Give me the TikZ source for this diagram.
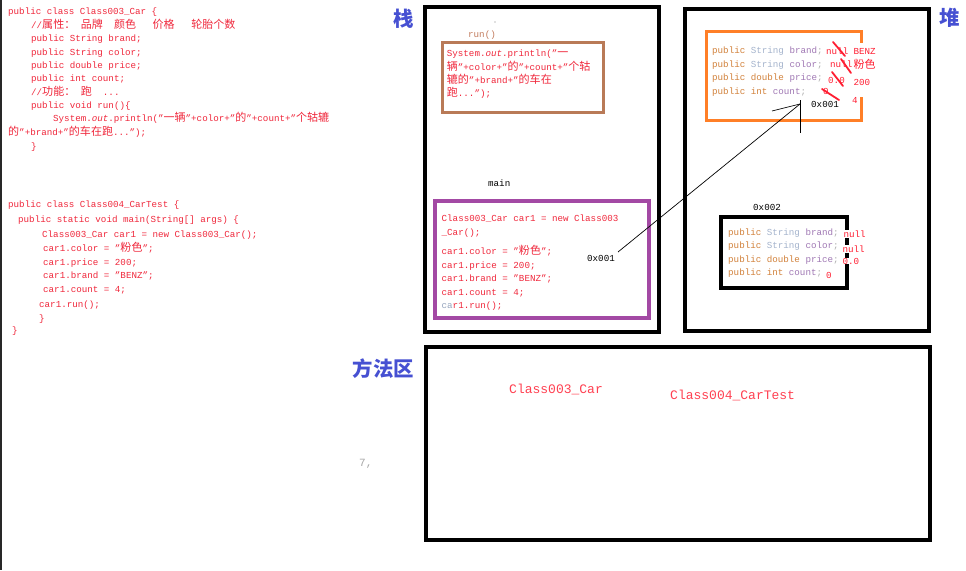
\documentclass[tikz,border=0pt]{standalone}
\usepackage{fontspec}
\newfontfamily\monof{Liberation Mono}
\newfontfamily\cjkfont{Noto Sans CJK SC}[Scale=1.2]
\newcommand{\zh}[1]{{\cjkfont #1}}
\newcommand{\codefont}{\fontsize{9.2}{11}\selectfont\monof}
\definecolor{codered}{RGB}{240,40,60}
\definecolor{annred}{RGB}{255,30,50}
\definecolor{labblue}{RGB}{70,80,210}
\definecolor{pbrown}{RGB}{185,122,87}
\definecolor{porange}{RGB}{255,127,39}
\definecolor{ppurple}{RGB}{163,73,164}
\definecolor{kw}{RGB}{210,130,60}
\definecolor{ty}{RGB}{165,180,205}
\definecolor{idc}{RGB}{160,120,180}
\definecolor{semi}{RGB}{175,175,175}
\definecolor{runc}{RGB}{195,125,95}
\definecolor{greyc}{RGB}{150,165,190}
\definecolor{edge}{RGB}{40,40,40}
\begin{document}
\begin{tikzpicture}[x=1pt,y=-1pt,
  code/.style={anchor=base west, inner sep=0pt, font=\codefont, text=codered},
  lbl/.style={anchor=base west, inner sep=0pt, font=\codefont, text=black},
  heaptxt/.style={anchor=base west, inner sep=0pt, font=\codefont},
  ann/.style={anchor=base west, inner sep=0pt, font=\codefont, text=annred},
  annw/.style={anchor=base west, inner sep=0.3pt, font=\codefont, text=annred, fill=white},
  region/.style={draw=black, line width=4pt, inner sep=0pt},
  zone/.style={font=\fontsize{17}{17}\selectfont\cjkfont\bfseries, text=labblue, inner sep=0pt},
  strike/.style={draw=annred, line width=1.8pt, line cap=round},
  conn/.style={draw=black, line width=0.7pt}
]
\useasboundingbox (0,0) rectangle (966,570);
\fill[white] (0,0) rectangle (966,570);
\draw[line width=1.5pt, edge] (0.75,0) -- (0.75,570);

% ---------- left code, block 1 ----------
\node[code] (a1) at (8,14) {public class Class003\_Car \{};
\node[code] (a2) at (31,28) {//\zh{属性：}~\zh{品牌}~~\zh{颜色}~~~\zh{价格}~~~\zh{轮胎个数}};
\node[code] (a3) at (31,41) {public String brand;};
\node[code] (a4) at (31,55) {public String color;};
\node[code] (a5) at (31,68) {public double price;};
\node[code] (a6) at (31,81) {public int count;};
\node[code] (a7) at (31,95) {//\zh{功能：}~\zh{跑}~~...};
\node[code] (a8) at (31,108) {public void run()\{};
\node[code] (a9) at (53,121) {System.\textit{out}.println(”\zh{一辆}”+color+”\zh{的}”+count+”\zh{个轱辘}};
\node[code] (a10) at (8,135) {\zh{的}”+brand+”\zh{的车在跑}...”);};
\node[code] (a11) at (31,149) {\}};

% ---------- left code, block 2 ----------
\node[code] (b1) at (8,207) {public class Class004\_CarTest \{};
\node[code] (b2) at (18,222) {public static void main(String[] args) \{};
\node[code] (b3) at (42,237) {Class003\_Car car1 = new Class003\_Car();};
\node[code] (b4) at (43,251) {car1.color = ”\zh{粉色}”;};
\node[code] (b5) at (43,265) {car1.price = 200;};
\node[code] (b6) at (43,278) {car1.brand = ”BENZ”;};
\node[code] (b7) at (43,292) {car1.count = 4;};
\node[code] (b8) at (39,307) {car1.run();};
\node[code] (b9) at (39,321) {\}};
\node[code] (b10) at (12,333) {\}};

% ---------- region boxes ----------
\node[region, minimum width=234.5pt, minimum height=325pt] (stack) at (541.75,169.5) {};
\node[region, minimum width=244pt, minimum height=322pt] (heap) at (807,170) {};
\node[region, minimum width=504pt, minimum height=193pt] (method) at (678,443.5) {};

\node[zone] (zstack) at (404,18.5) {栈};
\node[zone] (zheap) at (949.5,18) {堆};
\node[zone] (zmethod) at (383.5,369) {方法区};

% ---------- stack contents ----------
\fill[gray] (495,22) circle (0.6pt);
\node[lbl, text=runc] (runlbl) at (468,37) {run()};
\node[draw=pbrown, line width=3pt, inner sep=0pt, minimum width=161pt, minimum height=69.5pt] (runframe) at (522.5,77.25) {};
\node[code] (r1) at (446.7,56) {System.\textit{out}.println(”\zh{一}};
\node[code] (r2) at (446.7,70) {\zh{辆}”+color+”\zh{的}”+count+”\zh{个轱}};
\node[code] (r3) at (446.7,83) {\zh{辘的}”+brand+”\zh{的车在}};
\node[code] (r4) at (446.7,96.5) {\zh{跑}...”);};

\node[lbl] (mainlbl) at (488,186) {main};
\node[draw=ppurple, line width=4pt, inner sep=0pt, minimum width=214.5pt, minimum height=117pt] (mainframe) at (541.75,259) {};
\node[code] (m1) at (441.5,221.5) {Class003\_Car car1 = new Class003};
\node[code] (m2) at (441.5,235) {\_Car();};
\node[code] (m3) at (441.5,254) {car1.color = ”\zh{粉色}”;};
\node[code] (m4) at (441.5,268) {car1.price = 200;};
\node[code] (m5) at (441.5,281.5) {car1.brand = ”BENZ”;};
\node[code] (m6) at (441.5,295) {car1.count = 4;};
\node[code] (m7) at (441.5,308.5) {\textcolor{greyc}{ca}r1.run();};
\node[lbl] (addr1) at (587,261) {0x001};

% ---------- heap contents ----------
\node[draw=porange, line width=3pt, inner sep=0pt, minimum width=154.5pt, minimum height=88.5pt] (obj1) at (783.75,75.75) {};
\node[heaptxt] (h1) at (712,53.5) {\textcolor{kw}{public} \textcolor{ty}{String} \textcolor{idc}{brand}\textcolor{semi}{;}};
\node[heaptxt] (h2) at (712,67) {\textcolor{kw}{public} \textcolor{ty}{String} \textcolor{idc}{color}\textcolor{semi}{;}};
\node[heaptxt] (h3) at (712,80.5) {\textcolor{kw}{public} \textcolor{kw}{double} \textcolor{idc}{price}\textcolor{semi}{;}};
\node[heaptxt] (h4) at (712,94) {\textcolor{kw}{public} \textcolor{kw}{int} \textcolor{idc}{count}\textcolor{semi}{;}};
\fill[white] (852,43) rectangle (876,97);
\node[ann] (n1) at (826,54.3) {null};
\node[annw] (v1) at (853,54.3) {BENZ};
\node[ann] (n2) at (830,67.5) {null};
\node[annw] (v2) at (853,68) {\zh{粉色}};
\node[ann] (n3) at (828,83.7) {0.0};
\node[annw] (v3) at (853,85) {200};
\node[ann] (n4) at (823,94.3) {0};
\node[ann] (v4) at (852,103.7) {4};
\draw[strike] (833,42) -- (845,56);
\draw[strike] (841,59) -- (851,73);
\draw[strike] (832,72) -- (843,86);
\draw[strike] (822,89) -- (839,100);
\node[lbl] (haddr1) at (811,107) {0x001};

\node[lbl] (haddr2) at (753,210.5) {0x002};
\node[region, minimum width=126pt, minimum height=70.5pt] (obj2) at (784,252.25) {};
\node[heaptxt] (k1) at (728,235.5) {\textcolor{kw}{public} \textcolor{ty}{String} \textcolor{idc}{brand}\textcolor{semi}{;}};
\node[heaptxt] (k2) at (728,248.5) {\textcolor{kw}{public} \textcolor{ty}{String} \textcolor{idc}{color}\textcolor{semi}{;}};
\node[heaptxt] (k3) at (728,262) {\textcolor{kw}{public} \textcolor{kw}{double} \textcolor{idc}{price}\textcolor{semi}{;}};
\node[heaptxt] (k4) at (728,275) {\textcolor{kw}{public} \textcolor{kw}{int} \textcolor{idc}{count}\textcolor{semi}{;}};
\node[annw] (d1) at (843,237.3) {null};
\node[annw] (d2) at (842,252.3) {null};
\node[annw] (d3) at (842,264) {0.0};
\node[ann] (d4) at (826,278) {0};

% ---------- method area ----------
\node[anchor=base west, inner sep=0pt, font=\fontsize{13}{15}\selectfont\monof, text=annred!85] (c1) at (509,393.5) {Class003\_Car};
\node[anchor=base west, inner sep=0pt, font=\fontsize{13}{15}\selectfont\monof, text=annred!85] (c2) at (670,399.5) {Class004\_CarTest};
\node[anchor=base west, inner sep=0pt, font=\fontsize{11}{12}\selectfont\monof, text=gray!70] (seven) at (359,466) {7,};

% ---------- reference connector ----------
\coordinate (p1) at (618,252);
\coordinate (tip) at (800,104);
\coordinate (tick) at (772,111);
\coordinate (vtop) at (800,100);
\coordinate (vbot) at (800,133);
\draw[conn] (p1) -- (tip);
\draw[conn] (tick) -- (tip);
\draw[conn] (vtop) -- (vbot);
\end{tikzpicture}
\end{document}
